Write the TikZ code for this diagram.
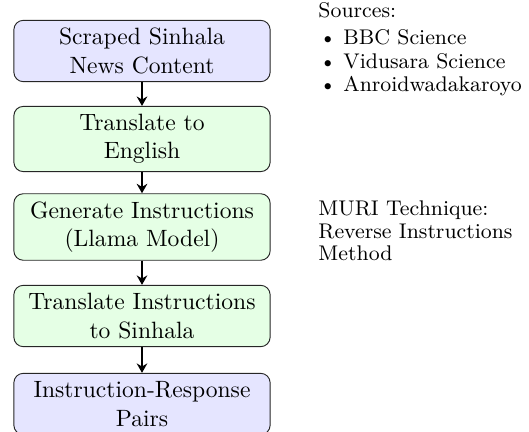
\documentclass[tikz,border=0pt]{standalone}
\usetikzlibrary{arrows.meta}
\begin{document}
\begin{tikzpicture}[x=0.424pt,y=-0.424pt,
  stage/.style={draw=black!85, rounded corners=4pt, align=center,
    text width=102pt, minimum height=26pt, inner sep=3.33pt, font=\normalsize},
  srcbox/.style={stage, fill=blue!10},
  workbox/.style={stage, fill=green!10},
  flow/.style={thick, -{Stealth[length=4pt,width=4.5pt]}},
  note/.style={anchor=base west, inner sep=0pt, font=\small}
]
\useasboundingbox (0,0) rectangle (529,432);

% pipeline stages
\node[srcbox]  (scrape) at (142,51)  {Scraped Sinhala\\News Content};
\node[workbox] (trans)  at (142,139) {Translate to\\English};
\node[workbox] (gen)    at (142,227) {Generate Instructions\\(Llama Model)};
\node[workbox] (back)   at (142,316) {Translate Instructions\\to Sinhala};
\node[srcbox]  (pairs)  at (142,404) {Instruction-Response\\Pairs};

\draw[flow] (scrape) -- (trans);
\draw[flow] (trans) -- (gen);
\draw[flow] (gen) -- (back);
\draw[flow] (back) -- (pairs);

% side notes
\node[note] (srchead) at (318,18) {Sources:};
\node[note] (b1) at (319,45) {\textbullet};
\node[note] (s1) at (343,45) {BBC Science};
\node[note] (b2) at (319,69) {\textbullet};
\node[note] (s2) at (343,69) {Vidusara Science};
\node[note] (b3) at (319,92) {\textbullet};
\node[note] (s3) at (343,92) {Anroidwadakaroyo};

\node[note] (m1) at (318,216) {MURI Technique:};
\node[note] (m2) at (318,239) {Reverse Instructions};
\node[note] (m3) at (318,261) {Method};
\end{tikzpicture}
\end{document}
